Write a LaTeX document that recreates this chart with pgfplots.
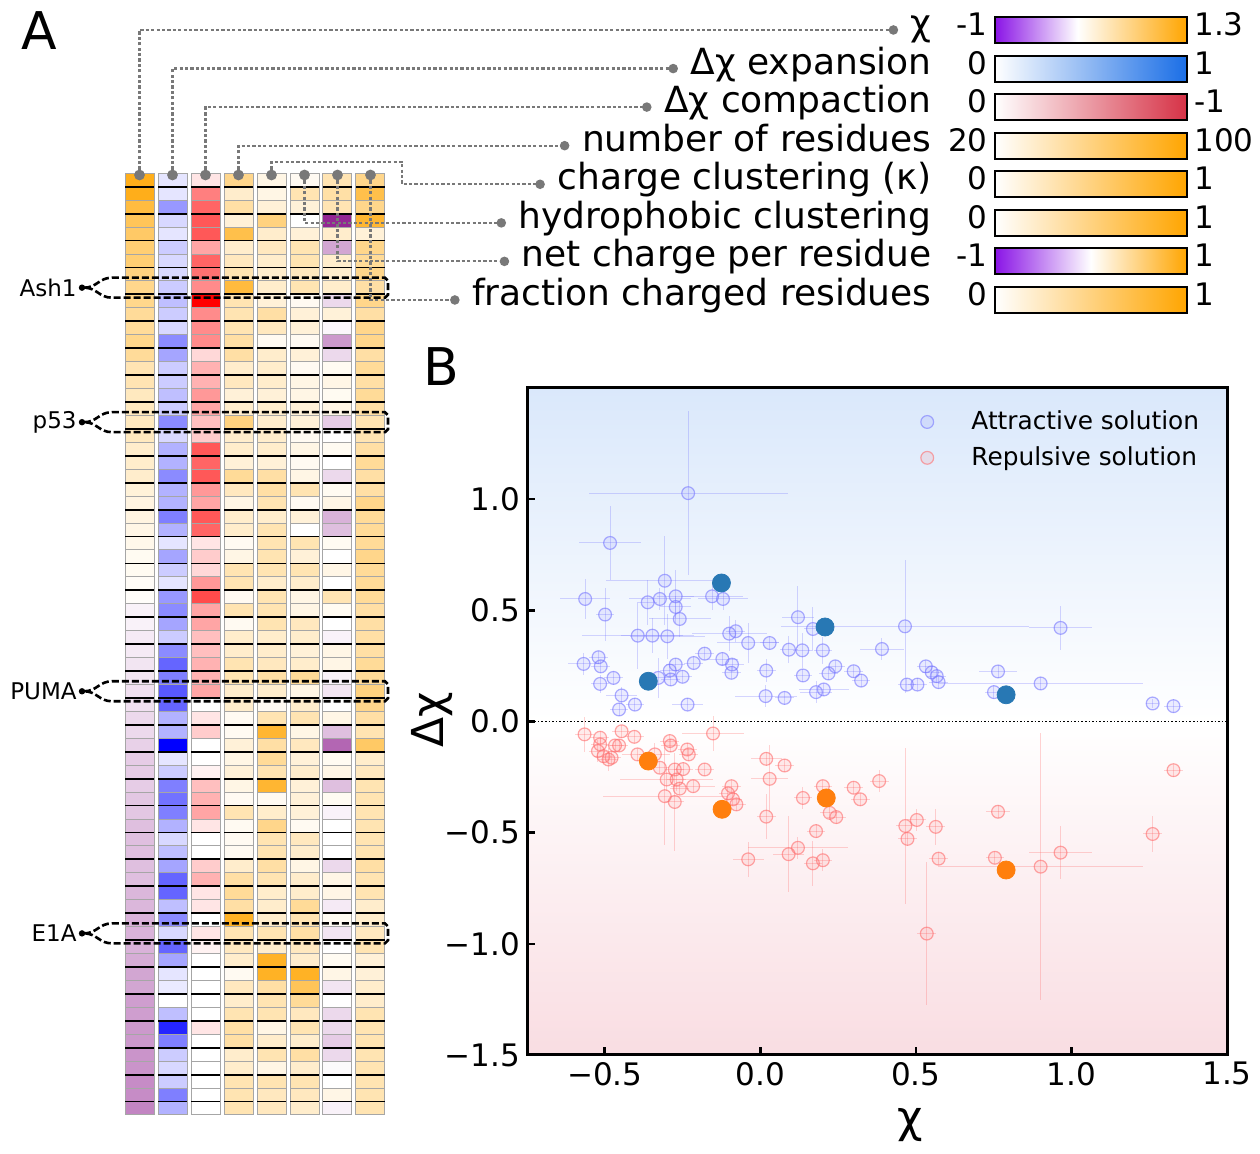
\documentclass[border=0pt]{standalone}
\usepackage{fontspec}
\setmainfont{DejaVu Sans}
\usepackage{pgfplots}
\pgfplotsset{compat=1.18}
\usepackage{pgfplotstable}
\usetikzlibrary{calc}

\definecolor{cbpurple}{RGB}{138,20,230}
\definecolor{cborange}{RGB}{255,165,0}
\definecolor{cbblue}{RGB}{26,110,230}
\definecolor{cbred}{RGB}{214,50,70}
\definecolor{bgblue}{RGB}{218,232,251}
\definecolor{bgpink}{RGB}{249,221,226}
\definecolor{attr}{RGB}{120,120,255}
\definecolor{rep}{RGB}{255,110,110}
\definecolor{hlblue}{RGB}{40,120,180}
\definecolor{hlorange}{RGB}{255,127,14}
\definecolor{leadgray}{RGB}{120,120,120}

\pgfdeclarehorizontalshading{chibar}{100bp}{color(0bp)=(cbpurple); color(25bp)=(cbpurple); color(46.5bp)=(white); color(75bp)=(cborange); color(100bp)=(cborange)}
\pgfdeclarehorizontalshading{ncbar}{100bp}{color(0bp)=(cbpurple); color(25bp)=(cbpurple); color(50bp)=(white); color(75bp)=(cborange); color(100bp)=(cborange)}
\pgfdeclareverticalshading{bgB}{100bp}{color(0bp)=(bgpink); color(25bp)=(bgpink); color(50bp)=(white); color(75bp)=(bgblue); color(100bp)=(bgblue)}

\pgfdeclareplotmark{cell}{\pgfpathrectangle{\pgfpoint{-7.25pt}{-3.3625pt}}{\pgfpoint{14.5pt}{6.725pt}}\pgfusepathqfillstroke}

\pgfplotsset{
 colormap={cmdiv}{rgb255=(128,0,128) rgb255=(255,255,255) rgb255=(255,165,0)},
 colormap={cmblue}{rgb255=(255,255,255) rgb255=(0,0,255)},
 colormap={cmred}{rgb255=(255,255,255) rgb255=(255,0,0)},
 colormap={cmorange}{rgb255=(255,255,255) rgb255=(255,165,0)},
 cellplot/.style={scatter, only marks, mark=cell, point meta=explicit,
   scatter/use mapped color={draw=black!35, fill=mapped color}, mark options={line width=0.5pt}},
 wideleg/.style={legend image code/.code={\draw[##1] plot coordinates {(0.3cm,0cm)}; \path (0cm,0cm) (1.0cm,0cm);}},
}

\newcommand{\cbf}{\fontsize{18}{21}\selectfont}
\newcommand{\cbn}{\fontsize{15.5}{18}\selectfont}

\pgfplotstableread{
r c1 c2 c3 c4 c5 c6 c7 c8
1 0.9 0.1 0.1 0.45 0.1 0.05 0.3 0.45
2 0.9 0.1 0.5 0.2 0.1 0.3 0.35 0.7
3 0.75 0.4 0.6 0.35 0.15 0.15 0.3 0.45
4 0.65 0.15 0.65 0.15 0.5 0.0 -0.85 0.8
5 0.6 0.1 0.65 0.7 0.2 0.15 0.2 0.15
6 0.55 0.2 0.35 0.2 0.25 0.3 -0.35 0.45
7 0.55 0.15 0.6 0.25 0.2 0.3 0.2 0.4
8 0.5 0.15 0.55 0.3 0.2 0.25 0.2 0.45
9 0.45 0.2 0.45 0.75 0.2 0.3 0.2 0.35
10 0.45 0.25 1.0 0.3 0.15 0.05 -0.15 0.45
11 0.4 0.2 0.45 0.3 0.35 0.15 0.15 0.35
12 0.4 0.15 0.45 0.3 0.25 0.15 -0.03 0.45
13 0.45 0.45 0.45 0.35 0.05 0.05 -0.4 0.45
14 0.4 0.35 0.15 0.35 0.2 0.15 -0.15 0.35
15 0.3 0.2 0.3 0.2 0.2 0.05 0.05 0.4
16 0.3 0.2 0.3 0.25 0.2 0.1 0.1 0.35
17 0.25 0.25 0.4 0.15 0.15 0.1 0.05 0.4
18 0.25 0.2 0.35 0.2 0.2 0.15 0.1 0.35
19 0.25 0.45 0.25 0.5 0.2 0.15 -0.2 0.3
20 0.25 0.15 0.2 0.2 0.2 0.05 0.0 0.3
21 0.2 0.3 0.65 0.2 0.2 0.1 0.05 0.35
22 0.2 0.3 0.6 0.15 0.15 0.05 0.0 0.4
23 0.2 0.45 0.65 0.4 0.35 0.1 -0.15 0.35
24 0.15 0.3 0.4 0.25 0.35 0.3 0.05 0.35
25 0.12 0.3 0.35 0.1 0.3 0.05 0.1 0.45
26 0.12 0.5 0.65 0.2 0.2 0.15 -0.3 0.4
27 0.1 0.3 0.6 0.2 0.3 0.0 -0.25 0.4
28 0.08 0.1 0.1 0.05 0.3 0.3 0.05 0.4
29 0.05 0.35 0.2 0.1 0.3 0.15 0.0 0.45
30 0.05 0.2 0.15 0.3 0.3 0.3 0.1 0.4
31 0.03 0.1 0.4 0.3 0.2 0.2 0.0 0.4
32 0.02 0.4 0.7 0.05 0.3 0.1 0.3 0.4
33 -0.05 0.45 0.35 0.3 0.3 0.1 0.05 0.35
34 -0.05 0.35 0.35 0.05 0.3 0.25 0.0 0.35
35 -0.08 0.2 0.25 0.2 0.2 0.2 -0.05 0.35
36 -0.08 0.45 0.25 0.2 0.2 0.15 0.1 0.35
37 -0.1 0.6 0.3 0.3 0.25 0.2 0.1 0.4
38 -0.1 0.5 0.3 0.3 0.35 0.4 -0.05 0.4
39 -0.12 0.65 0.35 0.2 0.2 0.1 -0.1 0.5
40 -0.12 0.6 0.0 0.2 0.05 0.2 0.0 0.45
41 -0.15 0.3 0.1 0.05 0.3 0.3 0.1 0.35
42 -0.15 0.3 0.2 0.05 0.8 0.1 -0.25 0.3
43 -0.18 1.0 0.0 0.15 0.35 0.25 -0.6 0.6
44 -0.2 0.1 0.0 0.1 0.4 0.15 0.05 0.2
45 -0.2 0.2 0.05 0.15 0.3 0.2 0.1 0.25
46 -0.2 0.5 0.25 0.1 0.8 0.15 -0.25 0.3
47 -0.22 0.55 0.3 0.05 0.05 0.15 0.05 0.3
48 -0.22 0.5 0.35 0.3 0.2 0.15 -0.05 0.3
49 -0.25 0.3 0.1 0.05 0.45 0.05 0.0 0.3
50 -0.25 0.15 0.0 0.05 0.3 0.25 0.0 0.3
51 -0.25 0.25 0.0 0.05 0.3 0.2 0.0 0.3
52 -0.25 0.35 0.2 0.2 0.35 0.1 -0.15 0.35
53 -0.25 0.6 0.3 0.35 0.3 0.2 0.1 0.3
54 -0.28 0.6 0.1 0.4 0.2 0.2 0.1 0.3
55 -0.28 0.25 0.1 0.35 0.2 0.4 -0.08 0.2
56 -0.3 0.45 0.0 0.85 0.2 0.3 0.05 0.2
57 -0.3 0.15 0.1 0.3 0.3 0.35 -0.1 0.25
58 -0.3 0.6 0.05 0.25 0.2 0.25 0.0 0.3
59 -0.32 0.35 0.0 0.2 0.85 0.2 0.05 0.15
60 -0.35 0.1 0.0 0.05 0.85 0.85 0.1 0.15
61 -0.35 0.08 0.0 0.25 0.35 0.65 -0.1 0.2
62 -0.38 0.0 0.0 0.2 0.3 0.4 0.0 0.2
63 -0.38 0.25 0.0 0.3 0.3 0.25 -0.15 0.3
64 -0.4 0.85 0.1 0.35 0.1 0.3 -0.15 0.3
65 -0.4 0.5 0.0 0.35 0.2 0.2 -0.2 0.3
66 -0.42 0.2 0.0 0.2 0.3 0.35 -0.15 0.3
67 -0.42 0.15 0.0 0.2 0.1 0.2 -0.02 0.3
68 -0.45 0.2 0.0 0.3 0.3 0.3 0.0 0.3
69 -0.45 0.5 0.0 0.3 0.25 0.25 0.1 0.3
70 -0.48 0.3 0.0 0.3 0.25 0.2 -0.05 0.3
}\heat

\pgfplotstableread{
x y ex ey
-0.232 1.027 0.32 0.37
-0.483 0.803 0.10 0.165
-0.307 0.633 0.19 0.20
-0.563 0.551 0.08 0.09
-0.499 0.481 0.03 0.12
-0.362 0.536 0.03 0.10
-0.323 0.551 0.10 0.05
-0.272 0.563 0.06 0.12
-0.272 0.515 0.05 0.05
-0.259 0.461 0.10 0.08
-0.155 0.563 0.10 0.06
-0.120 0.551 0.08 0.05
-0.394 0.386 0.18 0.15
-0.347 0.386 0.10 0.08
-0.299 0.383 0.12 0.10
-0.100 0.395 0.12 0.08
-0.079 0.406 0.03 0.05
-0.039 0.353 0.10 0.09
0.030 0.353 0.03 0.03
0.121 0.469 0.05 0.14
0.169 0.416 0.03 0.10
0.092 0.323 0.03 0.06
0.135 0.320 0.03 0.08
0.201 0.320 0.03 0.06
0.391 0.326 0.07 0.05
-0.568 0.259 0.05 0.05
-0.520 0.289 0.03 0.03
-0.513 0.248 0.03 0.03
-0.515 0.169 0.03 0.04
-0.472 0.196 0.03 0.03
-0.446 0.117 0.05 0.04
-0.454 0.054 0.03 0.03
-0.403 0.076 0.03 0.03
-0.328 0.196 0.04 0.09
-0.291 0.229 0.03 0.03
-0.272 0.256 0.03 0.03
-0.288 0.189 0.03 0.03
-0.250 0.201 0.03 0.03
-0.234 0.076 0.05 0.03
-0.214 0.263 0.03 0.03
-0.179 0.305 0.03 0.03
-0.122 0.281 0.05 0.03
-0.091 0.256 0.04 0.03
-0.093 0.219 0.03 0.03
0.019 0.229 0.03 0.05
0.017 0.114 0.10 0.05
0.078 0.106 0.03 0.03
0.137 0.207 0.03 0.03
0.179 0.132 0.05 0.05
0.204 0.144 0.08 0.03
0.219 0.216 0.03 0.03
0.241 0.248 0.03 0.03
0.300 0.226 0.03 0.03
0.324 0.184 0.03 0.03
0.465 0.428 0.40 0.30
0.471 0.166 0.03 0.03
0.505 0.166 0.03 0.03
0.532 0.248 0.03 0.03
0.551 0.221 0.03 0.03
0.567 0.204 0.03 0.03
0.573 0.177 0.03 0.03
0.764 0.225 0.06 0.03
0.751 0.132 0.03 0.03
0.901 0.171 0.33 0.03
0.965 0.421 0.10 0.10
1.261 0.081 0.02 0.02
1.328 0.069 0.03 0.03
}\attrtab

\pgfplotstableread{
x y ex ey
-0.565 -0.058 0.03 0.08
-0.515 -0.073 0.03 0.03
-0.515 -0.103 0.03 0.03
-0.446 -0.044 0.03 0.03
-0.405 -0.069 0.03 0.03
-0.467 -0.108 0.03 0.03
-0.454 -0.108 0.03 0.03
-0.522 -0.133 0.03 0.05
-0.504 -0.156 0.03 0.03
-0.488 -0.171 0.03 0.05
-0.478 -0.163 0.03 0.03
-0.395 -0.148 0.05 0.03
-0.339 -0.148 0.05 0.05
-0.323 -0.208 0.03 0.03
-0.291 -0.088 0.03 0.03
-0.288 -0.108 0.03 0.03
-0.235 -0.126 0.03 0.03
-0.230 -0.148 0.03 0.03
-0.152 -0.054 0.10 0.08
-0.275 -0.216 0.03 0.03
-0.248 -0.214 0.03 0.03
-0.301 -0.261 0.15 0.05
-0.269 -0.261 0.03 0.05
-0.259 -0.302 0.03 0.03
-0.216 -0.291 0.07 0.03
-0.179 -0.216 0.03 0.03
-0.307 -0.336 0.20 0.22
-0.275 -0.362 0.03 0.22
-0.093 -0.291 0.03 0.03
-0.104 -0.323 0.03 0.03
-0.088 -0.350 0.03 0.03
-0.077 -0.373 0.03 0.03
0.019 -0.168 0.05 0.03
0.030 -0.258 0.06 0.15
0.078 -0.198 0.03 0.03
0.019 -0.428 0.03 0.10
-0.039 -0.620 0.05 0.08
0.091 -0.597 0.05 0.17
0.121 -0.568 0.16 0.05
0.169 -0.638 0.03 0.10
0.201 -0.624 0.03 0.05
0.179 -0.493 0.03 0.03
0.137 -0.344 0.03 0.05
0.201 -0.291 0.03 0.03
0.223 -0.411 0.03 0.03
0.244 -0.430 0.03 0.03
0.300 -0.298 0.03 0.03
0.321 -0.350 0.03 0.03
0.382 -0.268 0.03 0.05
0.466 -0.470 0.03 0.35
0.503 -0.443 0.03 0.05
0.473 -0.528 0.03 0.03
0.564 -0.474 0.03 0.08
0.573 -0.617 0.03 0.03
0.535 -0.954 0.03 0.32
0.764 -0.406 0.04 0.03
0.754 -0.613 0.03 0.03
0.901 -0.653 0.33 0.60
0.965 -0.590 0.10 0.12
1.261 -0.506 0.03 0.08
1.328 -0.219 0.03 0.03
}\reptab

\pgfplotstableread{
x y
-0.125 0.623
0.208 0.425
-0.360 0.181
0.790 0.120
}\attrhl

\pgfplotstableread{
x y
-0.360 -0.178
-0.123 -0.395
0.212 -0.344
0.790 -0.668
}\rephl

\tikzset{
 prot/.style={black, line width=1.3pt, dash pattern=on 3.5pt off 1.5pt},
 lead/.style={leadgray, line width=1.1pt, dash pattern=on 1.6pt off 1.1pt},
}
\newcommand{\protbox}[2]{%
 \draw[prot] (84,#1) .. controls (97,#1) and (99,#1-10) .. (112,#1-10) -- (385,#1-10) -- (388,#1-7) -- (388,#1+7) -- (385,#1+10) -- (112,#1+10) .. controls (99,#1+10) and (97,#1) .. (84,#1);
 \fill (82,#1) circle[radius=1.6pt];
 \node[anchor=east, inner sep=0pt, font=\fontsize{11.5}{13}\selectfont] at (77,#1) {#2};}

\begin{document}
\begin{tikzpicture}
\useasboundingbox (0,0) rectangle (630pt,577pt);

% ---------- heatmap (panel A)
\begin{axis}[at={(127.5pt,254.925pt)}, anchor=center, scale only axis,
  width=132pt, height=470.85pt, xmin=-0.5, xmax=7.5, ymin=0.5, ymax=70.5,
  y dir=reverse, axis lines=none, point meta min=0, point meta max=1, clip=false]
\addplot[cellplot, colormap name=cmdiv] table[x expr=0, y=r, meta expr=(\thisrow{c1}+1)/2] {\heat};
\addplot[cellplot, colormap name=cmblue] table[x expr=1, y=r, meta=c2] {\heat};
\addplot[cellplot, colormap name=cmred] table[x expr=2, y=r, meta=c3] {\heat};
\addplot[cellplot, colormap name=cmorange] table[x expr=3, y=r, meta=c4] {\heat};
\addplot[cellplot, colormap name=cmorange] table[x expr=4, y=r, meta=c5] {\heat};
\addplot[cellplot, colormap name=cmorange] table[x expr=5, y=r, meta=c6] {\heat};
\addplot[cellplot, colormap name=cmdiv] table[x expr=6, y=r, meta expr=(\thisrow{c7}+1)/2] {\heat};
\addplot[cellplot, colormap name=cmorange] table[x expr=7, y=r, meta=c8] {\heat};
\end{axis}

% ---------- scatter (panel B)
\begin{axis}[at={(438.5pt,216.25pt)}, anchor=center, scale only axis,
  width=350pt, height=333.5pt,
  xmin=-0.75, xmax=1.5, ymin=-1.5, ymax=1.5,
  xtick={-0.5,0,0.5,1,1.5}, xticklabels={−0.5,0.0,0.5,1.0,1.5},
  ytick={-1.5,-1,-0.5,0,0.5,1}, yticklabels={−1.5,−1.0,−0.5,0.0,0.5,1.0},
  tick pos=left, tick align=inside, major tick length=4pt,
  every tick/.style={black, line width=1.3pt},
  axis line style={line width=1.5pt},
  tick label style={font=\fontsize{15.5}{18}\selectfont},
  axis background/.style={shading=bgB},
  xlabel={χ}, ylabel={Δχ},
  every axis x label/.style={at={(axis description cs:0.547,-0.105)}, anchor=center, font=\fontsize{22}{26}\selectfont},
  every axis y label/.style={at={(axis description cs:-0.136,0.502)}, anchor=center, rotate=90, font=\fontsize{22}{26}\selectfont},
  legend style={at={(0.975,0.978)}, anchor=north east, draw=none, fill=none,
    font=\fontsize{12.4}{15}\selectfont, row sep=3pt, cells={anchor=west}},
]
\addplot[black, densely dotted, line width=0.8pt, forget plot] coordinates {(-0.75,0) (1.5,0)};
\addplot[attr, only marks, mark=*, mark size=3.2pt, wideleg,
  mark options={draw=attr, draw opacity=0.6, fill=attr, fill opacity=0.13, line width=0.6pt},
  error bars/.cd, x dir=both, x explicit, y dir=both, y explicit,
  error bar style={attr, opacity=0.3, line width=0.5pt}, error mark=none]
  table[x=x, y=y, x error=ex, y error=ey] {\attrtab};
\addlegendentry{Attractive solution}
\addplot[rep, only marks, mark=*, mark size=3.2pt, wideleg,
  mark options={draw=rep, draw opacity=0.6, fill=rep, fill opacity=0.13, line width=0.6pt},
  error bars/.cd, x dir=both, x explicit, y dir=both, y explicit,
  error bar style={rep, opacity=0.3, line width=0.5pt}, error mark=none]
  table[x=x, y=y, x error=ex, y error=ey] {\reptab};
\addlegendentry{Repulsive solution}
\addplot[hlblue, only marks, mark=*, mark size=4.5pt, mark options={draw=hlblue, fill=hlblue}, forget plot] table[x=x,y=y] {\attrhl};
\addplot[hlorange, only marks, mark=*, mark size=4.5pt, mark options={draw=hlorange, fill=hlorange}, forget plot] table[x=x,y=y] {\rephl};
\end{axis}

% ---------- decorations in pixel coordinates
\begin{scope}[x=0.5pt, y=-0.5pt, shift={(0pt,577pt)}]
\foreach \k in {1,3,...,69}{\foreach \c in {0,...,7}{\draw[black, line width=0.9pt] ({125+33*\c},{173.3+13.453*\k}) -- ++(29,0);}}

\protbox{287.7}{Ash1}
\protbox{422.2}{p53}
\protbox{691.3}{PUMA}
\protbox{933.4}{E1A}

% colorbar labels
\node[anchor=mid east, inner sep=0pt, font=\cbf] (L1) at (932,30) {χ};
\node[anchor=mid east, inner sep=0pt, font=\cbf] (L2) at (932,68.6) {Δχ expansion};
\node[anchor=mid east, inner sep=0pt, font=\cbf] (L3) at (932,107.1) {Δχ compaction};
\node[anchor=mid east, inner sep=0pt, font=\cbf] (L4) at (932,145.7) {number of residues};
\node[anchor=mid east, inner sep=0pt, font=\cbf] (L5) at (932,184.3) {charge clustering (κ)};
\node[anchor=mid east, inner sep=0pt, font=\cbf] (L6) at (932,222.9) {hydrophobic clustering};
\node[anchor=mid east, inner sep=0pt, font=\cbf] (L7) at (932,261.4) {net charge per residue};
\node[anchor=mid east, inner sep=0pt, font=\cbf] (L8) at (932,300) {fraction charged residues};
\foreach \i in {1,...,8}{\coordinate (D\i) at ($(L\i.mid west)+(-17,0)$);}

\draw[lead] (139.5,175) |- (D1);
\draw[lead] (172.5,175) |- (D2);
\draw[lead] (205.5,175) |- (D3);
\draw[lead] (238.5,175) |- (D4);
\draw[lead] (271.5,175) -- (271.5,162) -- (402,162) |- (D5);
\draw[lead] (304.5,175) |- (D6);
\draw[lead] (337.5,175) |- (D7);
\draw[lead] (370.5,175) |- (D8);
\foreach \i in {1,...,8}{\fill[leadgray] (D\i) circle[radius=2.4pt];}
\foreach \c in {0,...,7}{\fill[leadgray] ({139.5+33*\c},175) circle[radius=2.7pt];}

% colorbars
\shade[shading=chibar] (995,17) rectangle (1187,43);
\shade[left color=white, right color=cbblue] (995,55.6) rectangle (1187,81.6);
\shade[left color=white, right color=cbred] (995,94.1) rectangle (1187,120.1);
\shade[left color=white, right color=cborange] (995,132.7) rectangle (1187,158.7);
\shade[left color=white, right color=cborange] (995,171.3) rectangle (1187,197.3);
\shade[left color=white, right color=cborange] (995,209.9) rectangle (1187,235.9);
\shade[shading=ncbar] (995,248.4) rectangle (1187,274.4);
\shade[left color=white, right color=cborange] (995,287) rectangle (1187,313);
\foreach \yc in {30,68.6,107.1,145.7,184.3,222.9,261.4,300}{\draw[line width=1pt] (995,\yc-13) rectangle (1187,\yc+13);}
\foreach \yc/\lo/\hi in {30/-1/1.3, 68.6/0/1, 107.1/0/-1, 145.7/20/100, 184.3/0/1, 222.9/0/1, 261.4/-1/1, 300/0/1}{
  \node[anchor=mid east, inner sep=0pt, font=\cbn] at (988,\yc) {\lo};
  \node[anchor=mid west, inner sep=0pt, font=\cbn] at (1194,\yc) {\hi};}

% panel letters
\node[font=\fontsize{26}{30}\selectfont, inner sep=0pt] at (39,31) {A};
\node[font=\fontsize{26}{30}\selectfont, inner sep=0pt] at (441,367) {B};
\end{scope}
\end{tikzpicture}
\end{document}
